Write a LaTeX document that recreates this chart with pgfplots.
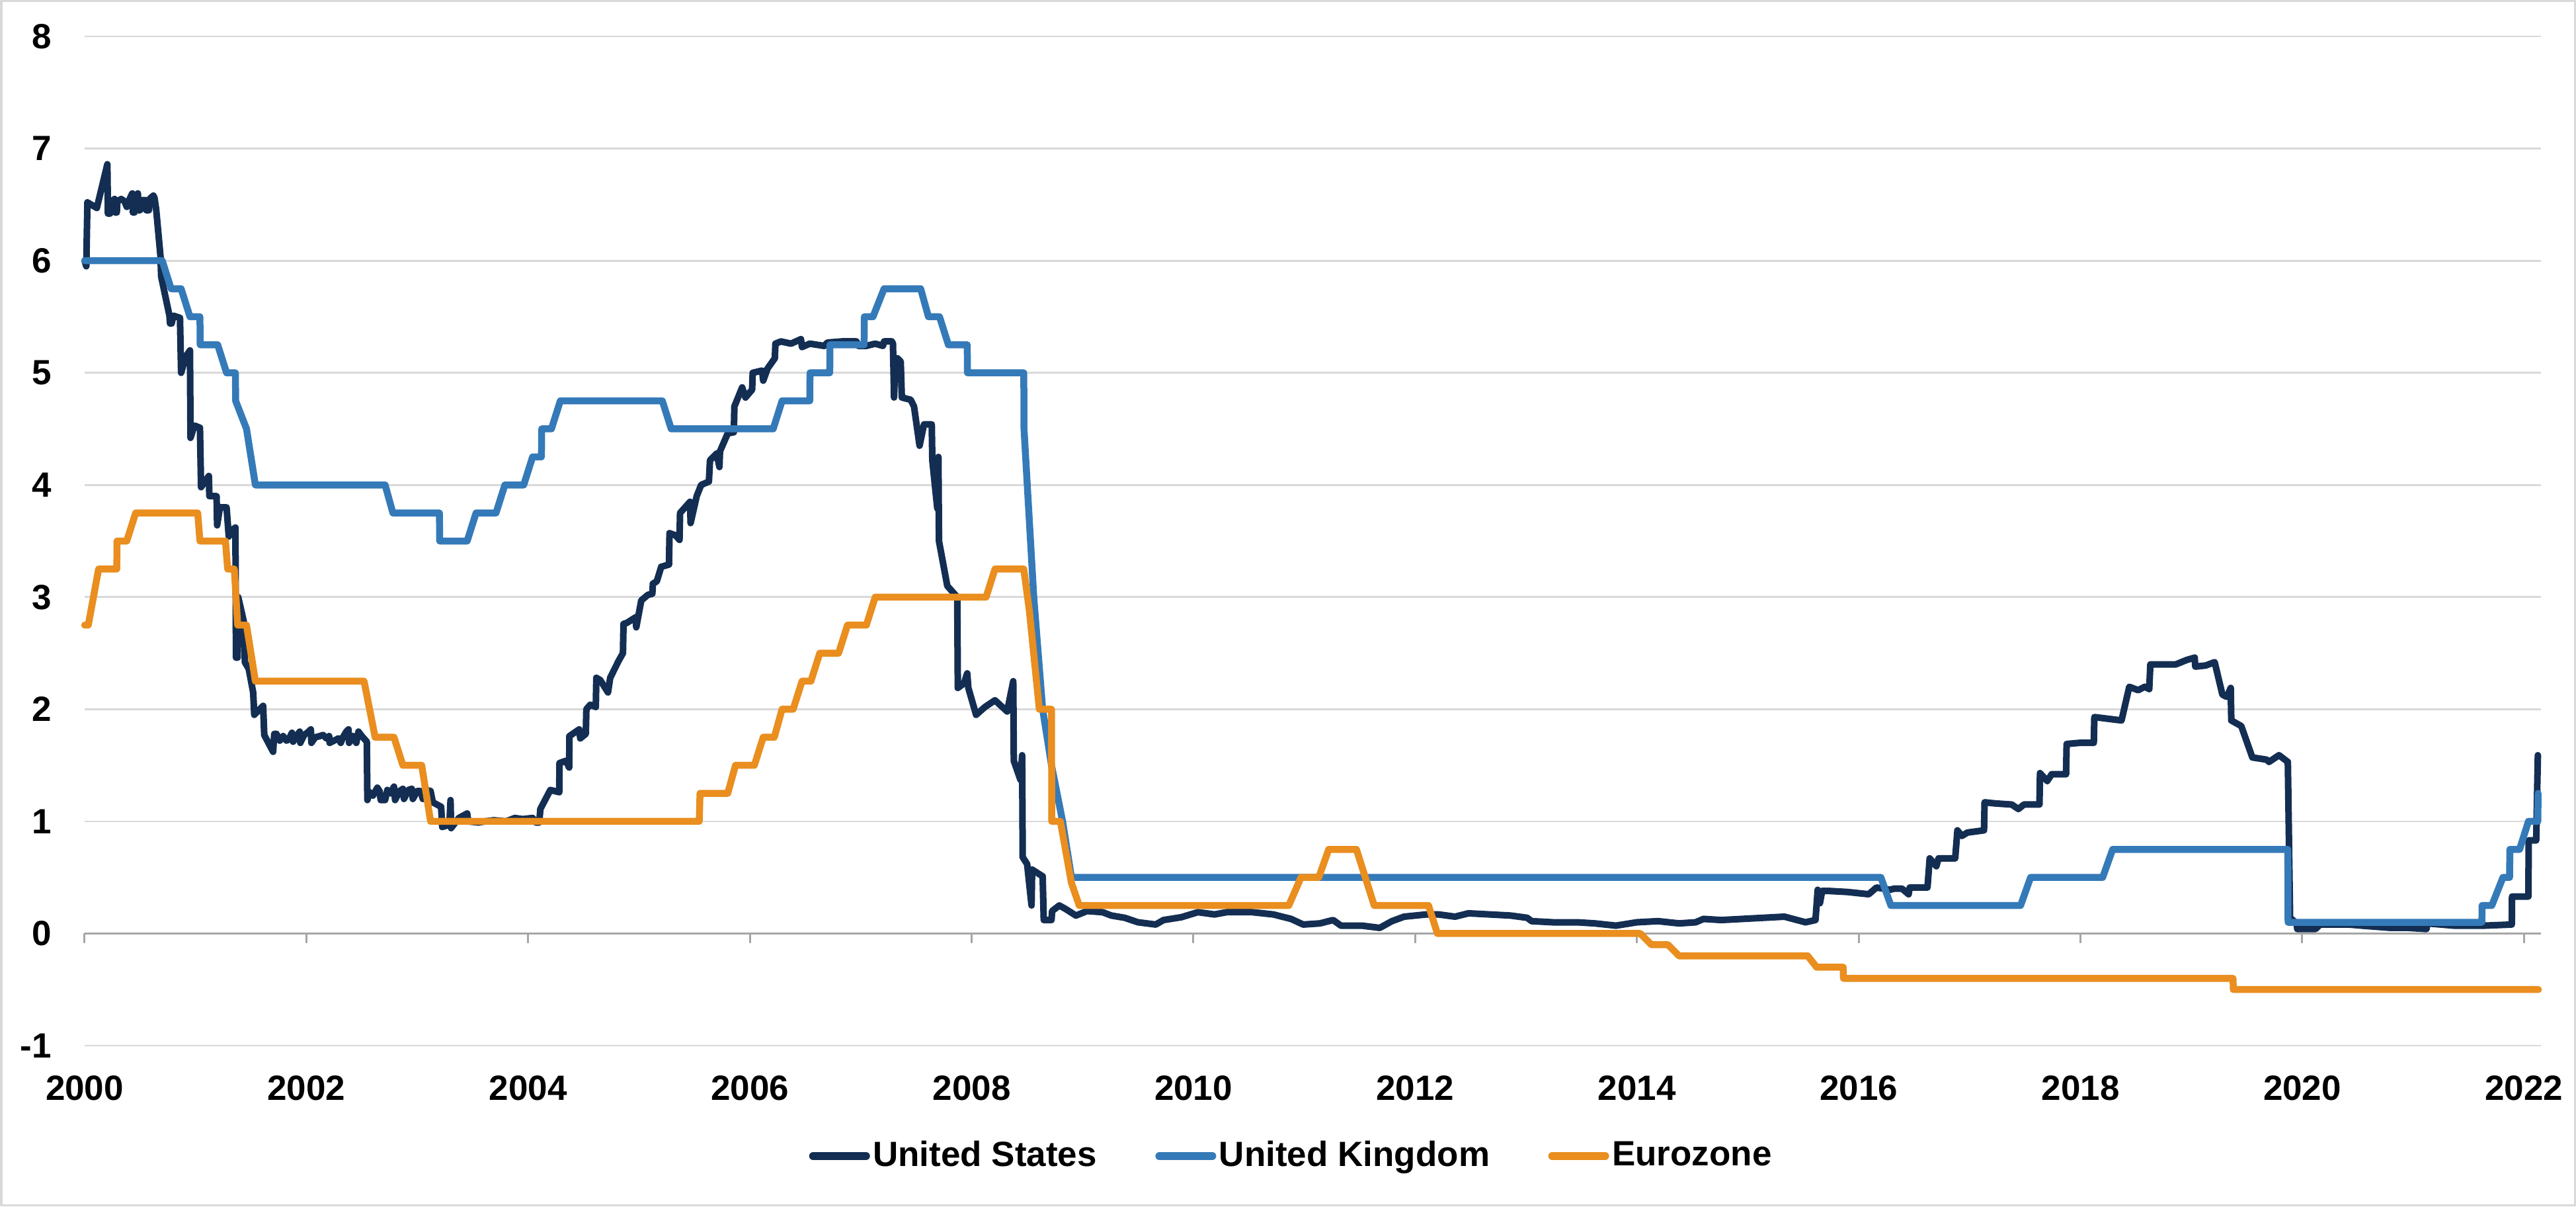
\documentclass[border=0pt]{standalone}
\usepackage{fontspec}
\setmainfont{Liberation Sans}
\usepackage{pgfplots}
\pgfplotsset{compat=1.18}
\definecolor{usnavy}{RGB}{19,46,82}
\definecolor{ukblue}{RGB}{53,122,184}
\definecolor{ezorange}{RGB}{233,142,31}
\definecolor{gridgray}{RGB}{217,217,217}
\definecolor{axisgray}{RGB}{166,166,166}
\begin{document}
\begin{tikzpicture}
\path[use as bounding box] (0,0) rectangle (779.2pt,364.8pt);
\draw[gridgray, line width=0.7pt] (0.35pt,0.35pt) rectangle (778.85pt,364.45pt);
\begin{axis}[
  at={(25.6pt,48.6pt)}, anchor=south west,
  scale only axis, width=743pt, height=305.2pt,
  xmin=2000, xmax=2022.153, ymin=-1, ymax=8,
  axis line style={draw=none},
  major tick length=0pt,
  xtick={2000,2002,2004,2006,2008,2010,2012,2014,2016,2018,2020,2022},
  xticklabels={2000,2002,2004,2006,2008,2010,2012,2014,2016,2018,2020,2022},
  ytick={-1,0,1,2,3,4,5,6,7,8},
  yticklabels={-1,0,1,2,3,4,5,6,7,8},
  ymajorgrids, major grid style={gridgray, line width=0.55pt},
  tick label style={font=\fontsize{10.6}{12}\selectfont\bfseries},
  xticklabel style={yshift=-5.5pt},
  yticklabel style={xshift=-6.5pt},
  clip=false,
  legend columns=3,
  legend style={at={(0.4915,-0.1094)}, anchor=center, draw=none, fill=none,
    font=\fontsize{10.6}{12}\selectfont\bfseries,
    /tikz/every even column/.append style={column sep=16.8pt},
    nodes={inner sep=0.9pt}, cells={anchor=west}},
  legend image code/.code={\draw[#1, line width=2.4pt, line cap=round] (1.2pt,0pt) -- (17.2pt,0pt);},
  every axis plot/.append style={line join=round, line cap=round},
]
\draw[axisgray, line width=0.6pt] (axis cs:2000,0) -- (axis cs:2022.153,0);
\pgfplotsinvokeforeach{2000,2002,2004,2006,2008,2010,2012,2014,2016,2018,2020,2022}{
  \draw[axisgray, line width=0.6pt] (axis cs:#1,0) -- ([yshift=-3pt]axis cs:#1,0);
}
% United States
\addplot[usnavy, line width=2.0pt] coordinates {
(2000.00,6.00)(2000.015,5.95)(2000.025,6.52)(2000.11,6.47)(2000.205,6.86)(2000.21,6.42)
(2000.23,6.42)(2000.235,6.52)(2000.27,6.55)(2000.275,6.43)(2000.29,6.43)(2000.295,6.53)
(2000.33,6.55)(2000.36,6.53)(2000.38,6.48)(2000.41,6.56)(2000.43,6.60)(2000.435,6.43)
(2000.45,6.43)(2000.455,6.56)(2000.48,6.60)(2000.485,6.45)(2000.50,6.45)(2000.51,6.54)
(2000.55,6.54)(2000.555,6.45)(2000.58,6.45)(2000.585,6.55)(2000.62,6.58)(2000.63,6.56)
(2000.645,6.46)(2000.685,6.03)(2000.69,5.86)(2000.765,5.51)(2000.77,5.44)(2000.785,5.44)
(2000.80,5.51)(2000.86,5.49)(2000.87,5.00)(2000.91,5.14)(2000.95,5.20)(2000.955,4.42)
(2000.99,4.53)(2001.04,4.51)(2001.05,3.98)(2001.10,4.05)(2001.12,4.08)(2001.125,3.90)
(2001.19,3.90)(2001.195,3.64)(2001.22,3.80)(2001.28,3.80)(2001.30,3.54)(2001.32,3.59)
(2001.36,3.62)(2001.365,2.46)(2001.38,2.46)(2001.385,3.00)(2001.42,2.85)(2001.44,2.76)
(2001.445,2.42)(2001.48,2.36)(2001.52,2.15)(2001.53,1.95)(2001.57,1.99)(2001.61,2.03)
(2001.62,1.77)(2001.70,1.62)(2001.71,1.78)
(2001.73,1.78)(2001.76,1.72)(2001.79,1.76)(2001.82,1.72)(2001.84,1.73)(2001.87,1.79)
(2001.88,1.71)(2001.91,1.76)(2001.94,1.80)(2001.945,1.70)(2001.98,1.77)(2002.02,1.80)
(2002.04,1.82)(2002.045,1.70)(2002.08,1.75)(2002.12,1.76)(2002.15,1.77)(2002.18,1.74)
(2002.205,1.76)(2002.21,1.70)(2002.25,1.72)(2002.29,1.74)(2002.31,1.70)(2002.33,1.75)
(2002.36,1.80)(2002.38,1.82)(2002.385,1.70)(2002.42,1.76)(2002.45,1.70)(2002.47,1.80)
(2002.50,1.76)(2002.545,1.71)
(2002.55,1.19)(2002.57,1.26)(2002.60,1.23)(2002.64,1.30)(2002.66,1.27)(2002.67,1.19)
(2002.71,1.19)(2002.73,1.28)(2002.76,1.25)(2002.79,1.31)(2002.80,1.19)(2002.84,1.27)
(2002.87,1.29)(2002.88,1.20)(2002.92,1.28)(2002.95,1.29)(2002.96,1.20)(2003.00,1.27)
(2003.03,1.27)(2003.05,1.20)(2003.08,1.28)(2003.12,1.27)(2003.14,1.17)(2003.215,1.13)
(2003.225,0.95)(2003.29,0.97)(2003.30,1.19)(2003.305,0.94)(2003.375,1.03)(2003.45,1.07)
(2003.46,1.00)(2003.55,0.99)(2003.61,1.00)(2003.69,1.01)(2003.80,1.00)(2003.88,1.03)
(2003.95,1.02)(2004.04,1.03)(2004.07,0.99)(2004.10,0.99)
(2004.11,1.11)(2004.20,1.28)(2004.28,1.26)(2004.283,1.52)(2004.34,1.54)(2004.37,1.48)
(2004.372,1.76)(2004.46,1.82)(2004.47,1.74)(2004.52,1.78)(2004.525,2.00)(2004.56,2.04)
(2004.61,2.02)(2004.615,2.28)(2004.65,2.26)(2004.72,2.15)(2004.74,2.28)(2004.815,2.43)
(2004.855,2.50)(2004.86,2.76)(2004.89,2.77)(2004.97,2.82)(2004.975,2.73)(2005.02,2.97)
(2005.08,3.02)(2005.12,3.03)(2005.125,3.12)(2005.16,3.14)(2005.20,3.27)(2005.27,3.29)
(2005.275,3.57)(2005.33,3.55)(2005.365,3.51)(2005.37,3.75)(2005.46,3.85)(2005.465,3.66)
(2005.52,3.90)(2005.56,4.00)(2005.63,4.03)(2005.64,4.22)(2005.70,4.28)(2005.725,4.16)
(2005.73,4.30)(2005.80,4.46)(2005.855,4.47)(2005.86,4.70)(2005.93,4.87)(2005.96,4.78)
(2006.02,4.85)(2006.025,5.00)(2006.11,5.02)(2006.12,4.93)(2006.16,5.04)(2006.225,5.13)
(2006.23,5.26)(2006.28,5.28)(2006.37,5.26)(2006.46,5.30)(2006.47,5.23)(2006.54,5.26)
(2006.67,5.24)(2006.70,5.27)(2006.83,5.28)(2006.96,5.28)(2006.98,5.24)(2007.05,5.24)
(2007.13,5.26)(2007.20,5.24)(2007.21,5.28)(2007.28,5.28)(2007.29,5.26)(2007.30,4.78)
(2007.31,5.08)(2007.33,5.13)(2007.36,5.10)(2007.37,4.78)(2007.45,4.76)(2007.48,4.70)
(2007.53,4.35)(2007.57,4.54)(2007.64,4.54)(2007.645,4.22)(2007.69,3.79)(2007.70,4.25)
(2007.705,3.50)(2007.78,3.10)(2007.87,3.00)(2007.875,2.19)(2007.93,2.23)(2007.96,2.32)
(2007.97,2.19)(2008.04,1.95)(2008.12,2.02)(2008.21,2.08)(2008.32,1.98)(2008.375,2.25)
(2008.38,1.54)(2008.44,1.37)(2008.455,1.59)(2008.46,0.68)(2008.50,0.62)(2008.54,0.25)
(2008.545,0.57)(2008.64,0.51)(2008.65,0.12)(2008.72,0.12)(2008.725,0.20)(2008.79,0.25)
(2008.845,0.22)(2008.94,0.16)(2009.04,0.20)(2009.18,0.19)(2009.26,0.16)(2009.38,0.14)
(2009.50,0.10)(2009.66,0.08)(2009.73,0.12)(2009.89,0.145)(2010.04,0.19)(2010.19,0.17)
(2010.30,0.19)(2010.53,0.19)(2010.72,0.17)(2010.88,0.13)(2010.99,0.08)(2011.14,0.09)
(2011.26,0.12)(2011.33,0.07)(2011.52,0.07)(2011.68,0.05)(2011.79,0.11)(2011.90,0.15)
(2012.10,0.17)(2012.21,0.17)(2012.36,0.15)(2012.48,0.18)(2012.67,0.17)(2012.86,0.16)
(2013.01,0.14)(2013.05,0.11)(2013.24,0.10)(2013.46,0.10)(2013.62,0.09)(2013.81,0.07)
(2014.00,0.10)(2014.19,0.11)(2014.38,0.09)(2014.53,0.10)(2014.60,0.13)(2014.76,0.12)
(2014.95,0.13)(2015.14,0.14)(2015.33,0.15)(2015.52,0.10)(2015.61,0.12)(2015.63,0.39)
(2015.65,0.27)(2015.67,0.38)(2015.72,0.38)(2015.90,0.37)(2016.09,0.35)(2016.16,0.41)
(2016.28,0.39)(2016.32,0.40)(2016.39,0.40)(2016.45,0.35)(2016.46,0.41)(2016.62,0.41)
(2016.64,0.67)(2016.70,0.60)(2016.72,0.67)(2016.87,0.67)(2016.89,0.92)(2016.93,0.87)
(2016.98,0.90)(2017.13,0.92)(2017.135,1.17)(2017.23,1.16)(2017.38,1.15)(2017.44,1.11)
(2017.49,1.15)(2017.63,1.15)(2017.635,1.43)(2017.70,1.36)(2017.74,1.42)(2017.87,1.42)
(2017.875,1.69)(2017.99,1.70)(2018.12,1.70)(2018.125,1.93)(2018.37,1.90)(2018.44,2.20)
(2018.52,2.17)(2018.58,2.20)(2018.62,2.18)(2018.63,2.40)(2018.86,2.40)(2018.96,2.44)
(2019.03,2.46)(2019.035,2.38)(2019.13,2.39)(2019.21,2.42)(2019.28,2.13)(2019.32,2.11)
(2019.355,2.19)(2019.36,1.90)(2019.45,1.85)(2019.55,1.57)(2019.68,1.55)(2019.70,1.53)
(2019.79,1.59)(2019.87,1.53)(2019.89,0.14)(2019.95,0.09)(2019.955,0.04)(2020.12,0.04)
(2020.16,0.08)(2020.42,0.08)(2020.54,0.07)(2020.80,0.05)(2020.95,0.05)(2021.12,0.04)
(2021.13,0.09)(2021.37,0.07)(2021.64,0.07)(2021.89,0.08)(2021.892,0.33)(2022.04,0.33)
(2022.042,0.83)(2022.11,0.83)(2022.125,1.59)
};
\addlegendentry{United States}
% United Kingdom
\addplot[ukblue, line width=2.1pt] coordinates {
(2000.00,6.0)(2000.70,6.0)(2000.78,5.75)(2000.87,5.75)(2000.95,5.5)(2001.04,5.5)
(2001.042,5.25)(2001.20,5.25)(2001.28,5.0)(2001.36,5.0)(2001.362,4.75)(2001.46,4.5)
(2001.54,4.0)(2002.71,4.0)(2002.78,3.75)(2003.20,3.75)(2003.202,3.5)(2003.45,3.5)
(2003.53,3.75)(2003.71,3.75)(2003.79,4.0)(2003.96,4.0)(2004.04,4.25)(2004.12,4.25)
(2004.122,4.5)(2004.21,4.5)(2004.29,4.75)(2005.21,4.75)(2005.29,4.5)(2006.21,4.5)
(2006.29,4.75)(2006.54,4.75)(2006.542,5.0)(2006.72,5.0)(2006.722,5.25)(2007.03,5.25)
(2007.032,5.5)(2007.11,5.5)(2007.21,5.75)(2007.54,5.75)(2007.61,5.5)(2007.71,5.5)
(2007.79,5.25)(2007.96,5.25)(2007.962,5.0)(2008.47,5.0)(2008.472,4.5)(2008.56,3.0)
(2008.64,2.0)(2008.72,1.5)(2008.82,1.0)(2008.90,0.5)(2016.20,0.5)(2016.29,0.25)
(2017.46,0.25)(2017.55,0.5)(2018.20,0.5)(2018.29,0.75)(2019.87,0.75)(2019.872,0.1)
(2021.62,0.1)(2021.622,0.25)(2021.71,0.25)(2021.81,0.5)(2021.87,0.5)(2021.872,0.75)
(2021.96,0.75)(2022.04,1.0)(2022.125,1.0)(2022.127,1.25)
};
\addlegendentry{United Kingdom}
% Eurozone
\addplot[ezorange, line width=2.1pt] coordinates {
(2000.00,2.75)(2000.033,2.75)(2000.126,3.25)(2000.29,3.25)(2000.292,3.5)(2000.38,3.5)
(2000.46,3.75)(2001.02,3.75)(2001.04,3.5)(2001.27,3.5)(2001.29,3.25)(2001.35,3.25)
(2001.38,2.75)(2001.46,2.75)(2001.54,2.25)(2002.52,2.25)(2002.62,1.75)(2002.79,1.75)
(2002.87,1.5)(2003.04,1.5)(2003.12,1.0)(2005.543,1.0)(2005.55,1.25)(2005.80,1.25)
(2005.87,1.5)(2006.04,1.5)(2006.12,1.75)(2006.22,1.75)(2006.29,2.0)(2006.39,2.0)
(2006.47,2.25)(2006.55,2.25)(2006.63,2.5)(2006.80,2.5)(2006.88,2.75)(2007.05,2.75)
(2007.13,3.0)(2008.13,3.0)(2008.21,3.25)(2008.47,3.25)(2008.52,2.88)(2008.61,2.0)
(2008.72,2.0)(2008.722,1.0)(2008.80,1.0)(2008.90,0.45)(2008.97,0.25)(2010.86,0.25)
(2010.97,0.5)(2011.13,0.5)(2011.22,0.75)(2011.47,0.75)(2011.63,0.25)(2012.12,0.25)
(2012.20,0.0)(2014.03,0.0)(2014.13,-0.1)(2014.28,-0.1)(2014.38,-0.2)(2015.54,-0.2)
(2015.62,-0.3)(2015.86,-0.3)(2015.862,-0.4)(2019.376,-0.4)(2019.378,-0.5)(2022.13,-0.5)
};
\addlegendentry{Eurozone}
\end{axis}
\end{tikzpicture}
\end{document}
